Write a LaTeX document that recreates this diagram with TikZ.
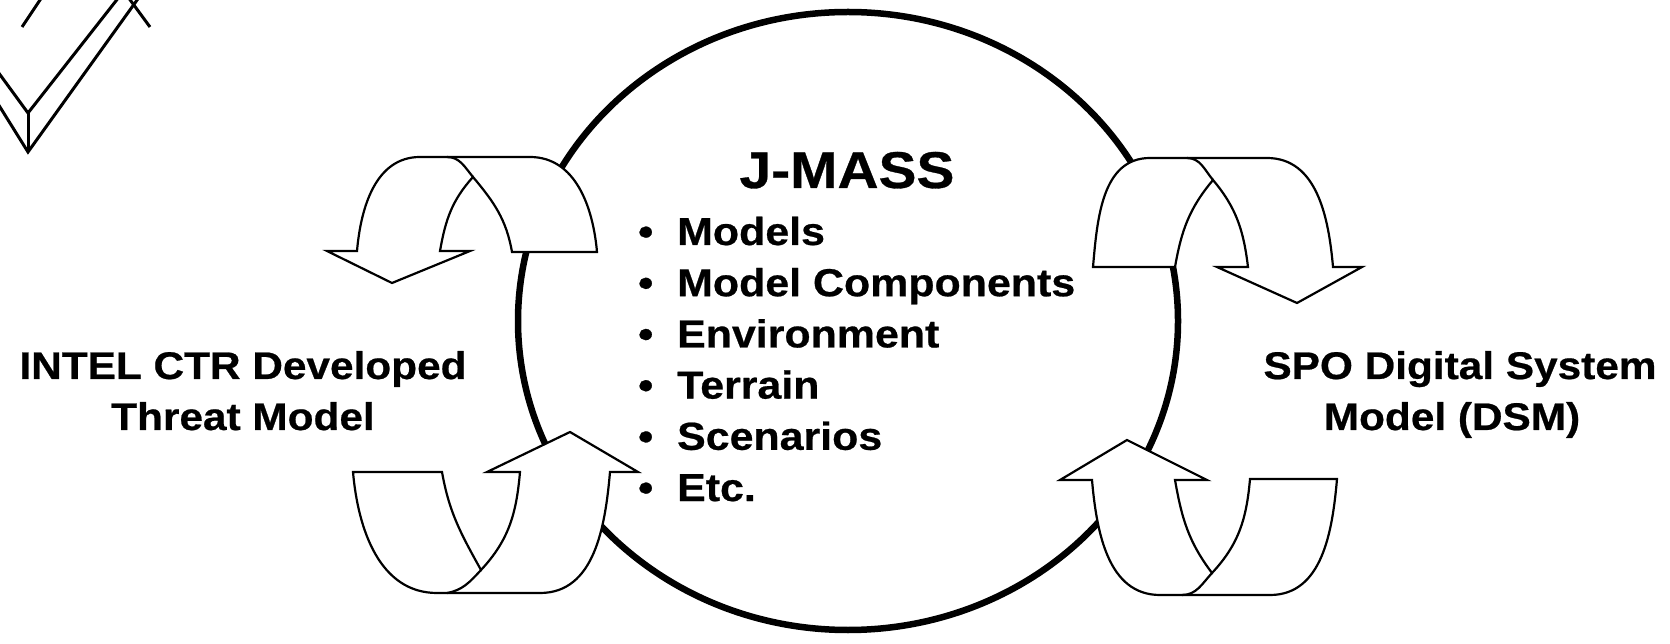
\documentclass[tikz,border=0pt]{standalone}
\usepackage{fontspec}
\setmainfont{Liberation Sans}[FakeStretch=1.1, BoldFeatures={FakeBold=0.6}]
\usetikzlibrary{positioning}

\tikzset{
  ribbon/.style={line width=2.2pt, line join=miter},
  ring/.style={line width=6.5pt},
  chevron/.style={line width=3pt},
}

\begin{document}
\begin{tikzpicture}[x=1pt,y=1pt,
  sidetext/.style={anchor=base, inner sep=0pt, font=\fontsize{38.5}{46}\selectfont\bfseries},
  itemtext/.style={anchor=base west, inner sep=0pt, font=\fontsize{39}{47}\selectfont\bfseries},
  titletext/.style={anchor=base, inner sep=0pt, font=\fontsize{51.7}{60}\selectfont\bfseries},
]
\useasboundingbox (0,0) rectangle (1670,643);

% corner fragment
\begin{scope}
  \clip (0,0) rectangle (1670,643);
  \draw[chevron] (-10,582) -- (28,530) -- (130,660);
  \draw[chevron] (-10,552) -- (28,491) -- (145,654);
  \draw[chevron] (28,530) -- (28,491);
  \draw[chevron] (128,646) -- (150,616);
  \draw[chevron] (22,616) -- (42,646);
\end{scope}

% big ring
\draw[ring] (848,322) ellipse [x radius=330, y radius=309];

% upper left arrow
\coordinate (ulTI) at (512,391);
\coordinate (ulTO) at (597,391);
\coordinate (ulHI) at (440,392);
\coordinate (ulHO) at (357,392);
\coordinate (ulX) at (473,466);
\draw[ribbon,fill=white] (ulTI) -- (ulTO) to[out=95,in=0] (530,486) -- (420,486)
  to[out=180,in=85] (ulHO) -- (327,392) -- (392,360) -- (470,392) -- (ulHI)
  to[out=80,in=-132] (ulX) to[out=-50,in=100] (ulTI) -- cycle;
\draw[ribbon] (ulX) to[out=130,in=0] (447,486);

% lower left arrow
\coordinate (llTI) at (442,171);
\coordinate (llTO) at (353,171);
\coordinate (llHI) at (520,171);
\coordinate (llHO) at (610,171);
\coordinate (llX) at (481,73);
\draw[ribbon,fill=white] (llTI) -- (llTO) to[out=-85,in=180] (437,50) -- (540,50)
  to[out=0,in=-95] (llHO) -- (638,171) -- (570,211) -- (487,171) -- (llHI)
  to[out=-95,in=47] (llX) to[out=119,in=-80] (llTI) -- cycle;
\draw[ribbon] (llX) to[out=-133,in=10] (447,50);

% upper right arrow
\coordinate (urTI) at (1175,376);
\coordinate (urTO) at (1093,376);
\coordinate (urHI) at (1248,376);
\coordinate (urHO) at (1333,376);
\coordinate (urX) at (1213,463);
\draw[ribbon,fill=white] (urTI) -- (urTO) to[out=85,in=180] (1150,485) -- (1267,485)
  to[out=0,in=95] (urHO) -- (1362,376) -- (1297,340) -- (1217,376) -- (urHI)
  to[out=97,in=-50] (urX) to[out=-130,in=80] (urTI) -- cycle;
\draw[ribbon] (urX) to[out=130,in=0] (1187,485);

% lower right arrow
\coordinate (lrTI) at (1250,164);
\coordinate (lrTO) at (1337,164);
\coordinate (lrHI) at (1175,163);
\coordinate (lrHO) at (1092,163);
\coordinate (lrX) at (1212,70);
\draw[ribbon,fill=white] (lrTI) -- (lrTO) to[out=-95,in=0] (1270,48) -- (1160,48)
  to[out=180,in=-85] (lrHO) -- (1060,163) -- (1127,203) -- (1207,163) -- (lrHI)
  to[out=-80,in=127] (lrX) to[out=47,in=-95] (lrTI) -- cycle;
\draw[ribbon] (lrX) to[out=-133,in=0] (1182,48);

% texts
\node[titletext] (title) at (847,455) {J-MASS};
\foreach \txt [count=\i] in {Models, Model Components, Environment, Terrain, Scenarios, Etc.}
  \node[itemtext] (item\i) at (638,{398-51.2*(\i-1)}) {\makebox[39pt][l]{\textbullet}\txt};

\node[sidetext] (intel) at (243,264) {INTEL CTR Developed};
\node[sidetext] (threat) at (243,213) {Threat Model};
\node[sidetext] (spo) at (1460,264) {SPO Digital System};
\node[sidetext] (dsm) at (1452,213) {Model (DSM)};
\end{tikzpicture}
\end{document}
